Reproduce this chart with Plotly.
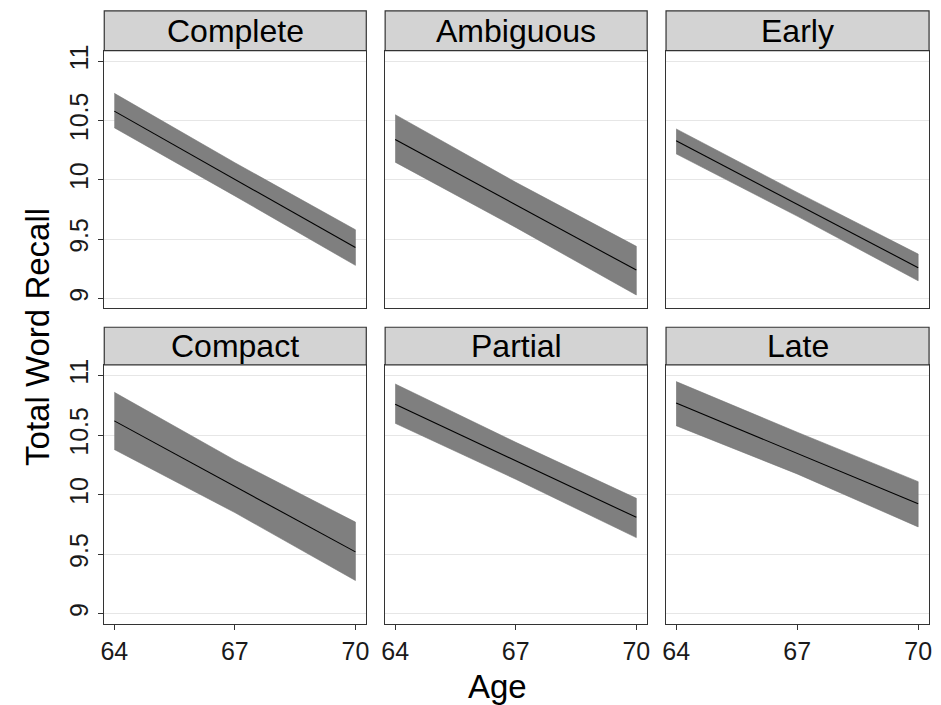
import plotly.graph_objects as go

# ---- data ----
panels = ["Complete", "Ambiguous", "Early", "Compact", "Partial", "Late"]
ages = [64, 67, 70]
fit = {
    "Complete":  [10.58, 10.005, 9.43],
    "Ambiguous": [10.34, 9.79, 9.24],
    "Early":     [10.33, 9.795, 9.26],
    "Compact":   [10.62, 10.07, 9.52],
    "Partial":   [10.76, 10.285, 9.81],
    "Late":      [10.77, 10.35, 9.925],
}
upper = {
    "Complete":  [10.73, 10.145, 9.58],
    "Ambiguous": [10.55, 9.98, 9.44],
    "Early":     [10.43, 9.895, 9.375],
    "Compact":   [10.86, 10.29, 9.77],
    "Partial":   [10.93, 10.44, 9.97],
    "Late":      [10.95, 10.525, 10.11],
}
lower = {
    "Complete":  [10.44, 9.865, 9.28],
    "Ambiguous": [10.15, 9.60, 9.03],
    "Early":     [10.22, 9.695, 9.15],
    "Compact":   [10.38, 9.85, 9.28],
    "Partial":   [10.60, 10.13, 9.64],
    "Late":      [10.58, 10.175, 9.73],
}
x_ticks = [64, 67, 70]
y_ticks = [9, 9.5, 10, 10.5, 11]
y_tick_labels = ["9", "9.5", "10", "10.5", "11"]

# ---- layout geometry ----
W, H = 941, 705
col_px = [(101, 365), (384, 648), (667, 932)]
row_px = [(45, 305), (362, 623)]          # plot area (top, bottom) in px
strip_px = [(5, 45), (324, 362)]          # strip (top, bottom) in px

def xd(a, b):
    return [a / W, b / W]

def yd(top, bot):
    return [1 - bot / H, 1 - top / H]

FONT = "Arial, Liberation Sans, sans-serif"
fig = go.Figure()
layout = dict(
    width=W, height=H, margin=dict(l=0, r=0, t=0, b=0),
    plot_bgcolor="white", paper_bgcolor="white", showlegend=False,
    font=dict(family=FONT, color="#1a1a1a"),
)
shapes, annotations = [], []

for i, name in enumerate(panels):
    r, c = divmod(i, 3)
    k = i + 1
    xa = "x" if k == 1 else f"x{k}"
    ya = "y" if k == 1 else f"y{k}"
    fig.add_trace(go.Scatter(
        x=ages + ages[::-1], y=upper[name] + lower[name][::-1],
        fill="toself", fillcolor="#7f7f7f", mode="lines",
        line=dict(color="#767676", width=0.6), xaxis=xa, yaxis=ya,
        hoverinfo="skip"))
    fig.add_trace(go.Scatter(
        x=ages, y=fit[name], mode="lines",
        line=dict(color="black", width=1.1), xaxis=xa, yaxis=ya))
    layout["xaxis" if k == 1 else f"xaxis{k}"] = dict(
        domain=xd(*col_px[c]), anchor=ya, range=[63.75, 70.27],
        tickvals=x_ticks, showticklabels=(r == 1),
        ticks="outside" if r == 1 else "", ticklen=5, tickcolor="#333333",
        tickfont=dict(size=25, color="#1a1a1a"),
        showgrid=False, zeroline=False,
        showline=True, mirror=True, linecolor="#333333", linewidth=1.2)
    layout["yaxis" if k == 1 else f"yaxis{k}"] = dict(
        domain=yd(*row_px[r]), anchor=xa, range=[8.917, 11.09],
        tickvals=y_ticks, ticktext=y_tick_labels, showticklabels=(c == 0),
        ticks="outside" if c == 0 else "", ticklen=5, tickcolor="#333333",
        tickangle=-90, tickfont=dict(size=25, color="#1a1a1a"),
        showgrid=True, gridcolor="#e6e6e6", gridwidth=1.2, zeroline=False,
        showline=True, mirror=True, linecolor="#333333", linewidth=1.2)
    # strip
    sx0, sx1 = xd(*col_px[c])
    sy0, sy1 = yd(*strip_px[r])
    shapes.append(dict(type="rect", xref="paper", yref="paper",
                       x0=sx0, x1=sx1, y0=sy0, y1=sy1,
                       fillcolor="#d3d3d3", line=dict(color="#333333", width=1.2)))
    annotations.append(dict(text=name, xref="paper", yref="paper",
                            x=(sx0 + sx1) / 2, y=(sy0 + sy1) / 2,
                            xanchor="center", yanchor="middle", showarrow=False,
                            font=dict(size=32, color="black", family=FONT)))

annotations.append(dict(text="Age", xref="paper", yref="paper",
                        x=497 / W, y=1 - 686 / H, xanchor="center", yanchor="middle",
                        showarrow=False, font=dict(size=33, color="black", family=FONT)))
annotations.append(dict(text="Total Word Recall", xref="paper", yref="paper",
                        x=33 / W, y=1 - 334 / H, xanchor="center", yanchor="middle",
                        textangle=-90, showarrow=False,
                        font=dict(size=33, color="black", family=FONT)))

layout["shapes"] = shapes
layout["annotations"] = annotations
fig.update_layout(**layout)
fig.write_html("out.html")
